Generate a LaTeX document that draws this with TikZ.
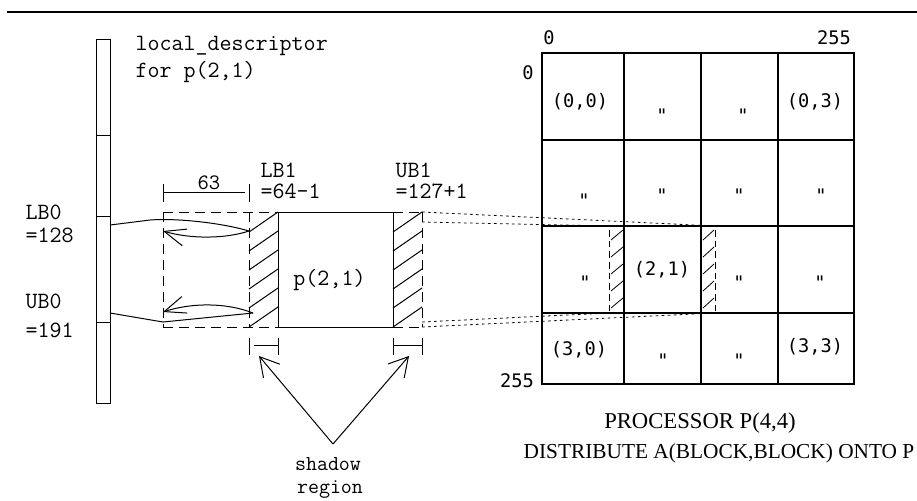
\documentclass[tikz,border=0pt]{standalone}
\usepackage{fontspec}
\setmainfont{Liberation Serif}
\newfontfamily\gridfont{DejaVu Sans Mono}
\usetikzlibrary{arrows.meta}

\begin{document}
\begin{tikzpicture}[x=0.75pt, y=-0.75pt, line width=0.75pt,
  code/.style={font=\ttfamily\fontsize{17.5}{20}\selectfont, inner sep=0pt},
  cell/.style={font=\gridfont\fontsize{14}{16}\selectfont, inner sep=0pt},
  ditto/.style={cell, anchor=north},
  caption/.style={inner sep=0pt},
  dashline/.style={dash pattern=on 7.5pt off 4.5pt},
  dotline/.style={dash pattern=on 2pt off 2.5pt, line width=0.6pt},
  gridline/.style={line width=1pt},
  barb/.style={-{Straight Barb[length=16pt, width=13pt]}},
  bigbarb/.style={-{Straight Barb[length=14pt, width=16pt]}}]
\useasboundingbox (0,0) rectangle (917,500);

% rule across the top
\draw[line width=2pt] (7,12) -- (917,12);

% descriptor column
\draw (96,39) rectangle (110,403);
\foreach \yy in {135,216,322} \draw (96,\yy) -- (110,\yy);
\coordinate (lbslot) at (110,225);
\coordinate (ubslot) at (110,313);

\node[code, anchor=base west] (ld1) at (135,50) {local\_descriptor};
\node[code, anchor=base west] (ld2) at (135,77) {for p(2,1)};
\node[code, anchor=base west] (lb0) at (25,219) {LB0};
\node[code, anchor=base west] (lb0v) at (25,242) {=128};
\node[code, anchor=base west] (ub0) at (25,308) {UB0};
\node[code, anchor=base west] (ub0v) at (25,337) {=191};

% width of the overlap region
\draw (163,184) -- (163,202);
\draw (249,184) -- (249,202);
\draw (163,192) -- (245,192);
\node[code, anchor=base, font=\ttfamily\fontsize{16.5}{18}\selectfont] (w63) at (209,189) {63};

\node[code, anchor=base west] (lb1) at (260,177) {LB1};
\node[code, anchor=base west] (lb1v) at (260,198) {=64-1};
\node[code, anchor=base west] (ub1) at (395,177) {UB1};
\node[code, anchor=base west] (ub1v) at (395,198) {=127+1};

% local block with its two shadow strips
\draw[dashline] (163,212) -- (278,212);
\draw[dashline] (163,327) -- (278,327);
\draw[dashline] (163,212) -- (163,327);
\draw[dashline] (249,212) -- (249,327);
\draw (278,212) rectangle (393,327);
\draw[dashline] (393,212) -- (422,212);
\draw[dashline] (393,327) -- (422,327);
\draw[dashline] (422,212) -- (422,327);
\foreach \k in {0,...,5} {
  \draw (249,232+19*\k) -- (278,212+19*\k);
  \draw (393,232+19*\k) -- (422,212+19*\k);
}
\node[code, anchor=center] (blk) at (329.5,280) {p(2,1)};

% bounds copied from the descriptor
\coordinate (lbin) at (249,231);
\coordinate (lbout) at (163,231);
\coordinate (ubin) at (253,313);
\coordinate (ubout) at (163,312);
\draw (lbslot) -- (150,220) .. controls (178,218) and (222,223) .. (lbin);
\draw[barb] (lbin) .. controls (225,239) and (190,239) .. (lbout);
\draw (ubslot) -- (163,322) -- (ubin);
\draw[barb] (ubin) .. controls (225,302) and (190,303) .. (ubout);

% shadow widths
\draw (249,338) -- (249,355);
\draw (278,338) -- (278,355);
\draw (254,345) -- (278,345);
\draw (393,338) -- (393,355);
\draw (422,338) -- (422,355);
\draw (393,345) -- (422,345);
\coordinate (lshw) at (259,356);
\coordinate (rshw) at (409,356);

\node[code, anchor=base, font=\ttfamily\fontsize{16}{18}\selectfont] (shd1) at (328,470) {shadow};
\node[code, anchor=base, font=\ttfamily\fontsize{16}{18}\selectfont] (shd2) at (330,493) {region};
\coordinate (shfoot) at (333,444);
\draw[bigbarb] (shfoot) -- (lshw);
\draw[bigbarb] (shfoot) -- (rshw);

% projection of the block onto the processor grid
\draw[dotline] (422,212) -- (715,226);
\draw[dotline] (422,222) -- (609,226);
\draw[dotline] (422,322) -- (609,313);
\draw[dotline] (422,327) -- (715,313);

% processor grid
\draw[gridline] (542,53) rectangle (854,384);
\foreach \xx in {624,701,778} \draw[gridline] (\xx,53) -- (\xx,384);
\foreach \yy in {140,226,313} \draw[gridline] (542,\yy) -- (854,\yy);

% shadow strips inside the grid
\draw[dash pattern=on 5pt off 3pt] (609,230) -- (609,313);
\draw[dash pattern=on 5pt off 3pt] (715,230) -- (715,313);
\foreach \k in {0,...,4} {
  \draw[line width=0.6pt] (611,240+17*\k) -- (623,230+17*\k);
  \draw[line width=0.6pt] (703,240+17*\k) -- (714,230+17*\k);
}

\node[cell] (c0) at (549,38) {0};
\node[cell] (c255) at (834,38) {255};
\node[cell] (r0) at (528,73) {0};
\node[cell] (r255) at (517,381) {255};

\node[cell] (p00) at (580,102) {(0,0)};
\node[ditto] (p01) at (662,108) {"};
\node[ditto] (p02) at (743,108) {"};
\node[cell] (p03) at (815,102) {(0,3)};
\node[ditto] (p10) at (584,193) {"};
\node[ditto] (p11) at (662,188) {"};
\node[ditto] (p12) at (739,188) {"};
\node[ditto] (p13) at (821,188) {"};
\node[ditto] (p20) at (585,275) {"};
\node[cell] (p21) at (662,270) {(2,1)};
\node[ditto] (p22) at (739,275) {"};
\node[ditto] (p23) at (820,275) {"};
\node[cell] (p30) at (579,350) {(3,0)};
\node[ditto] (p31) at (663,353) {"};
\node[ditto] (p32) at (739,353) {"};
\node[cell] (p33) at (815,347) {(3,3)};

\node[caption, anchor=base, font=\fontsize{17}{20}\selectfont] (cap1) at (700,428) {PROCESSOR P(4,4)};
\node[caption, anchor=base, font=\fontsize{16}{19}\selectfont] (cap2) at (719,458) {DISTRIBUTE A(BLOCK,BLOCK) ONTO P};
\end{tikzpicture}
\end{document}
